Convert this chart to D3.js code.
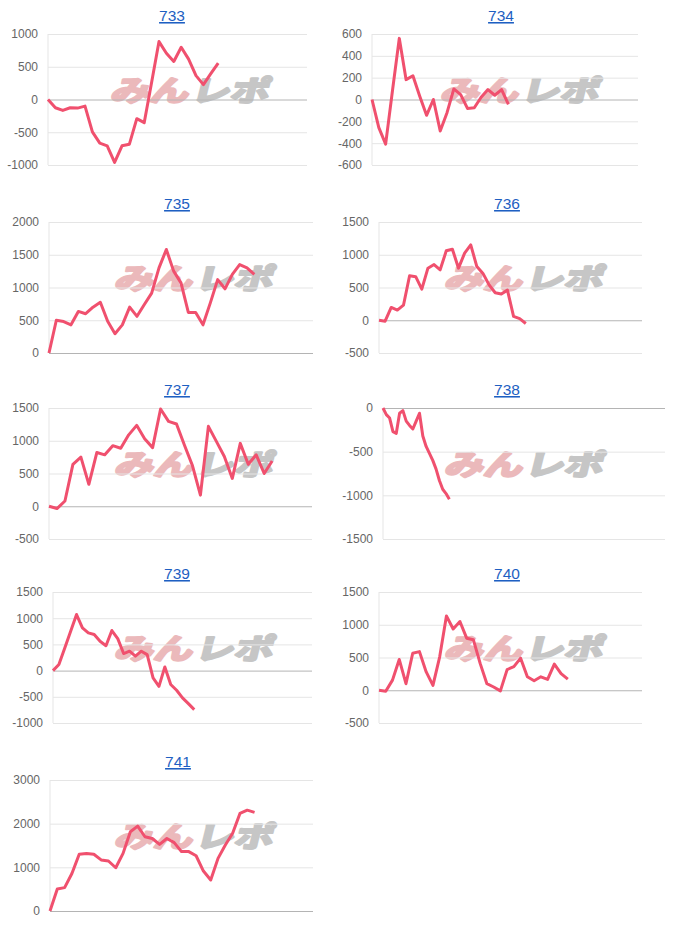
<!DOCTYPE html>
<html>
<head>
<meta charset="utf-8">
<script src="https://cdn.jsdelivr.net/npm/d3@7"></script>
<style>
  body { margin: 0; background: #fff; }
  svg { display: block; }
</style>
</head>
<body>
<div id="chart"></div>
<script>
// Machine numbers (one small chart each)
const panels = ["733", "734", "735", "736", "737", "738", "739", "740", "741"];

// Number of x slots on each chart's axis (the line only fills part of it)
const slotCounts = [36, 40, 37, 44, 34, 86, 45, 40, 37];

// Y tick labels for each chart
const yTicks = [
  [-1000, -500, 0, 500, 1000],
  [-600, -400, -200, 0, 200, 400, 600],
  [0, 500, 1000, 1500, 2000],
  [-500, 0, 500, 1000, 1500],
  [-500, 0, 500, 1000, 1500],
  [-1500, -1000, -500, 0],
  [-1000, -500, 0, 500, 1000, 1500],
  [-500, 0, 500, 1000, 1500],
  [0, 1000, 2000, 3000]
];

// Series values
const s733 = [0, -126, -167, -126, -131, -101, -495, -667, -707, -960, -707, -682, -293, -354, 260, 884, 707, 581, 798, 616, 364, 227, 394, 556];
const s734 = [0, -258, -409, 80, 560, 182, 218, 30, -145, 0, -288, -121, 97, 45, -82, -76, 21, 91, 39, 91, -45];
const s735 = [0, 500, 480, 430, 635, 600, 700, 775, 485, 295, 430, 700, 560, 740, 915, 1300, 1580, 1250, 1070, 620, 620, 430, 765, 1120, 980, 1200, 1350, 1300, 1200];
const s736 = [0, -15, 195, 155, 230, 680, 665, 475, 795, 850, 770, 1060, 1085, 795, 1025, 1150, 820, 715, 540, 420, 400, 460, 60, 25, -50];
const s737 = [0, -35, 80, 640, 750, 335, 820, 785, 925, 885, 1090, 1235, 1030, 895, 1485, 1295, 1255, 930, 620, 170, 1220, 990, 760, 425, 960, 640, 785, 500, 690];
const s738 = [0, -76, -115, -270, -290, -60, -30, -150, -200, -240, -150, -60, -320, -440, -520, -600, -700, -830, -930, -980, -1045];
const s739 = [0, 115, 430, 750, 1070, 815, 720, 690, 560, 475, 765, 610, 325, 370, 275, 370, 305, -140, -300, 70, -265, -375, -520, -630, -745];
const s740 = [0, -15, 155, 470, 100, 565, 590, 280, 75, 510, 1135, 935, 1050, 795, 770, 410, 100, 50, -10, 315, 360, 490, 205, 145, 205, 165, 400, 255, 170];
const s741 = [0, 505, 535, 860, 1300, 1315, 1300, 1170, 1145, 990, 1320, 1815, 1945, 1700, 1660, 1525, 1660, 1565, 1360, 1360, 1265, 915, 710, 1205, 1510, 1780, 2235, 2310, 2260];
const series = [s733, s734, s735, s736, s737, s738, s739, s740, s741];

// Plot boxes (page layout): plot edges, title x, watermark x
const boxes = [
  { l: 48,  r: 307, t: 34,  b: 165, tx: 172, wx: 189 },
  { l: 372, r: 638, t: 34,  b: 165, tx: 501, wx: 519 },
  { l: 49,  r: 313, t: 222, b: 353, tx: 177, wx: 193 },
  { l: 379, r: 642, t: 222, b: 353, tx: 507, wx: 523 },
  { l: 49,  r: 312, t: 408, b: 539, tx: 177, wx: 193 },
  { l: 383, r: 665, t: 408, b: 539, tx: 507, wx: 523 },
  { l: 53,  r: 312, t: 592, b: 723, tx: 177, wx: 193 },
  { l: 379, r: 642, t: 592, b: 723, tx: 507, wx: 523 },
  { l: 50,  r: 313, t: 780, b: 911, tx: 178, wx: 193 }
];

const width = 676;
const height = 936;
const lineColor = "#f0506e";
const font = "'Liberation Sans', Arial, Helvetica, sans-serif";
const wmFont = "'Noto Sans CJK JP', sans-serif";

const svg = d3.select("#chart").append("svg")
    .attr("width", width)
    .attr("height", height);

panels.forEach((name, i) => {
    const b = boxes[i];
    const x = d3.scalePoint().domain(d3.range(slotCounts[i])).range([b.l, b.r]);
    const y = d3.scaleLinear().domain(d3.extent(yTicks[i])).range([b.b, b.t]);
    const g = svg.append("g");

    // title link
    g.append("a").attr("href", "#")
      .append("text")
        .attr("x", b.tx)
        .attr("y", b.t - 13)
        .attr("text-anchor", "middle")
        .attr("font-family", font)
        .attr("font-size", 15.5)
        .attr("fill", "#1e5fc2")
        .style("text-decoration", "underline")
        .text(name);

    // watermark behind everything
    const cy = b.t + 57;
    const wm = g.append("g")
        .attr("transform", `translate(${b.wx},${cy}) skewX(-14) scale(1.3,0.95)`);
    wm.append("text")
        .attr("x", 1)
        .attr("y", 11)
        .attr("text-anchor", "end")
        .attr("font-family", wmFont)
        .attr("font-weight", "bold")
        .attr("font-size", 30)
        .attr("fill", "#ebb9bb")
        .attr("stroke", "#ebb9bb")
        .attr("stroke-width", 2.6)
        .attr("stroke-linejoin", "round")
        .text("みん");
    wm.append("text")
        .attr("x", 3)
        .attr("y", 11)
        .attr("text-anchor", "start")
        .attr("font-family", wmFont)
        .attr("font-weight", "bold")
        .attr("font-size", 30)
        .attr("fill", "#c6c6c6")
        .attr("stroke", "#c6c6c6")
        .attr("stroke-width", 2.6)
        .attr("stroke-linejoin", "round")
        .text("レポ");

    // y axis with grid lines
    const axis = g.append("g")
        .attr("transform", `translate(${b.l},0)`)
        .call(d3.axisLeft(y)
            .tickValues(yTicks[i])
            .tickSize(-(b.r - b.l))
            .tickPadding(10)
            .tickFormat(d => String(d)));
    axis.select(".domain").remove();
    axis.selectAll(".tick line")
        .attr("stroke", d => d === 0 ? "#b4b4b4" : "#e5e5e5");
    axis.selectAll(".tick text")
        .attr("font-family", font)
        .attr("font-size", 12)
        .attr("fill", "#666");

    // left axis line
    g.append("line")
        .attr("x1", b.l).attr("x2", b.l)
        .attr("y1", b.t).attr("y2", b.b)
        .attr("stroke", "#e5e5e5");

    // the series line
    const line = d3.line()
        .x((d, j) => x(j))
        .y(d => y(d));
    g.append("path")
        .datum(series[i])
        .attr("d", line)
        .attr("fill", "none")
        .attr("stroke", lineColor)
        .attr("stroke-width", 3)
        .attr("stroke-linejoin", "round");
});
</script>
</body>
</html>
